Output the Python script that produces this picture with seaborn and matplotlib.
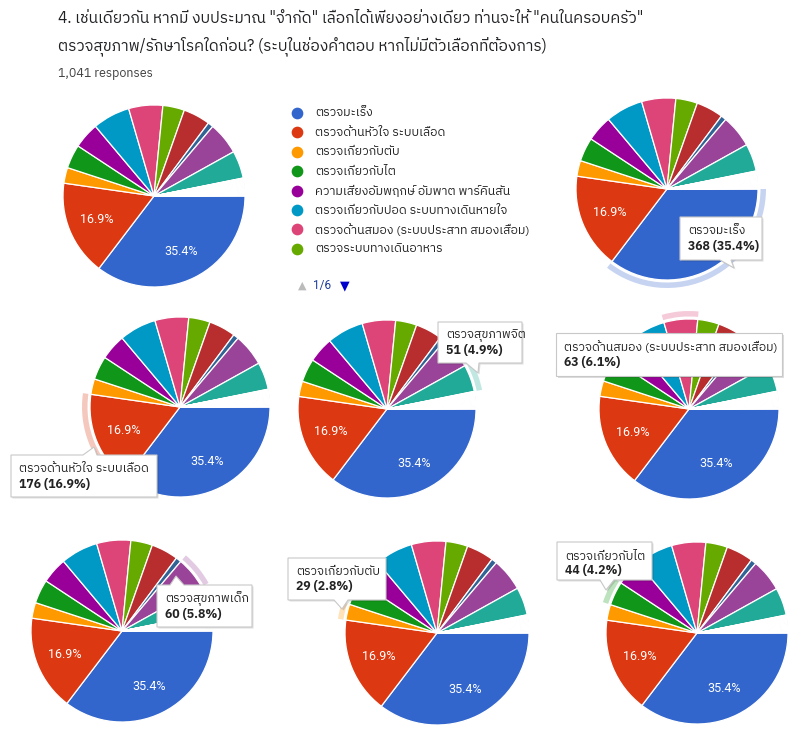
import matplotlib
matplotlib.use("Agg")
import matplotlib.pyplot as plt
import seaborn as sns
from matplotlib import font_manager as fm
from matplotlib.ft2font import FT2Font
from matplotlib.patches import Wedge, Polygon
from matplotlib.colors import to_rgb


# Data (1,041 responses)
categories = [
    "ตรวจมะเร็ง",
    "ตรวจด้านหัวใจ ระบบเลือด",
    "ตรวจเกี่ยวกับตับ",
    "ตรวจเกี่ยวกับไต",
    "ความเสี่ยงอัมพฤกษ์ อัมพาต พาร์คินสัน",
    "ตรวจเกี่ยวกับปอด ระบบทางเดินหายใจ",
    "ตรวจด้านสมอง (ระบบประสาท สมองเสื่อม)",
    "ตรวจระบบทางเดินอาหาร",
    "ตัวเลือกที่ 9",
    "ตัวเลือกที่ 10",
    "ตรวจสุขภาพเด็ก",
    "ตรวจสุขภาพจิต",
]
counts = [368, 176, 29, 44, 48, 69, 63, 40, 50, 10, 60, 51]
# many single answers typed in "other"
other_counts = [1, 1, 1, 1, 1, 1, 1, 1, 1, 1, 1, 1, 1, 1, 1, 1, 1,
                1, 1, 1, 1, 1, 1, 1, 1, 1, 1, 1, 1, 1, 1, 1, 1]

google_colors = ["#3366cc", "#dc3912", "#ff9900", "#109618", "#990099", "#0099c6",
                 "#dd4477", "#66aa00", "#b82e2e", "#316395", "#994499", "#22aa99",
                 "#aaaa11", "#6633cc", "#e67300", "#8b0707", "#651067", "#329262",
                 "#5574a6", "#3b3eac"]

title_lines = [
    '4. เช่นเดียวกัน หากมี งบประมาณ "จำกัด" เลือกได้เพียงอย่างเดียว ท่านจะให้ "คนในครอบครัว"',
    "ตรวจสุขภาพ/รักษาโรคใดก่อน? (ระบุในช่องคำตอบ หากไม่มีตัวเลือกที่ต้องการ)",
]
responses_text = "1,041 responses"
page_text = "1/6"

# hovered slice in each panel (None = no tooltip)
hovered = [None, 0, 1, 11, 6, 10, 2, 3]


# Font with Thai glyphs
sns.set_theme(style="white")
thai_fonts = []
for f in fm.fontManager.ttflist:
    try:
        if 0x0E15 in FT2Font(f.fname).get_charmap():
            thai_fonts.append(f.name)
    except Exception:
        pass
thai_fonts = sorted(set(thai_fonts), key=lambda n: ("Thai" not in n, n))
plt.rcParams["font.family"] = thai_fonts[:1] + ["Roboto", "DejaVu Sans"]

W, H = 800, 742
values = counts + other_counts
total = sum(values)
colors = [google_colors[i % len(google_colors)] for i in range(len(values))]


def Y(y):
    return H - y


def light(c, k=0.72):
    r, g, b = to_rgb(c)
    return (r + (1 - r) * k, g + (1 - g) * k, b + (1 - b) * k)


def tooltip(ax, box, lines, side=None, base=None, tip=None):
    x0, y0, x1, y1 = box
    if side == "top":
        pts = [(x0, y0), (base[0], y0), tip, (base[1], y0), (x1, y0), (x1, y1), (x0, y1)]
    elif side == "bottom":
        pts = [(x0, y0), (x1, y0), (x1, y1), (base[1], y1), tip, (base[0], y1), (x0, y1)]
    else:
        pts = [(x0, y0), (x1, y0), (x1, y1), (x0, y1)]
    shadow = Polygon([(x + 1.5, Y(y + 1.5)) for x, y in pts], closed=True,
                     facecolor="#00000022", edgecolor="none", zorder=5)
    ax.add_patch(shadow)
    ax.add_patch(Polygon([(x, Y(y)) for x, y in pts], closed=True, facecolor="white",
                         edgecolor="#c8c8c8", linewidth=0.8, zorder=6))
    ax.text(x0 + 8, Y(y0 + 14), lines[0], fontsize=8.8, color="#222222",
            va="center", ha="left", zorder=7)
    ax.text(x0 + 8, Y(y0 + 29), lines[1], fontsize=8.8, color="#222222",
            fontweight="bold", va="center", ha="left", zorder=7)


# Layout of the 8 pies (pixel centre, radius) and their tooltips
panels = [
    dict(c=(154, 196), r=91),
    dict(c=(667, 189), r=91, box=(680, 217, 762, 260), side="bottom",
         base=(720, 731), tip=(734, 268), covers_label=True),
    dict(c=(180, 407), r=90, box=(11, 455, 157, 497), side="top",
         base=(83, 97), tip=(94, 447)),
    dict(c=(387, 409), r=89, box=(438, 322, 522, 363), side="bottom",
         base=(466, 479), tip=(478, 373)),
    dict(c=(689, 409), r=90, box=(556, 333, 782, 376)),
    dict(c=(122, 631), r=91, box=(157, 585, 252, 627), side="top",
         base=(170, 184), tip=(176, 576)),
    dict(c=(437, 633), r=92, box=(288, 558, 386, 600), side="bottom",
         base=(334, 348), tip=(342, 609)),
    dict(c=(697, 633), r=91, box=(557, 542, 652, 580), side="bottom",
         base=(600, 614), tip=(606, 590)),
]

fig = plt.figure(figsize=(W / 100, H / 100), dpi=100)
ax = fig.add_axes([0, 0, 1, 1])

for p, hi in zip(panels, hovered):
    cx, cy = p["c"]
    r = p["r"]
    wedges, texts, autotexts = ax.pie(
        values, colors=colors, radius=r, center=(cx, Y(cy)), startangle=0,
        counterclock=False, frame=True,
        wedgeprops=dict(edgecolor="white", linewidth=0.9),
        autopct=lambda v: f"{v:.1f}%" if v > 10 else "", pctdistance=0.68,
        textprops=dict(color="white", fontsize=9, family=["Roboto", "DejaVu Sans"]))
    if hi is not None:
        if p.get("covers_label"):
            # the tooltip sits on top of this slice's label
            autotexts[hi].set_visible(False)
        start = -360 * sum(values[:hi]) / total
        end = -360 * sum(values[:hi + 1]) / total
        ax.add_patch(Wedge((cx, Y(cy)), r + 8, end, start, width=5.5,
                           facecolor=light(colors[hi]), edgecolor="none", zorder=4))
        pct = 100 * values[hi] / total
        tooltip(ax, p["box"], [categories[hi], f"{values[hi]} ({pct:.1f}%)"],
                p.get("side"), p.get("base"), p.get("tip"))

# Title + response count
ax.text(58, Y(18), title_lines[0], fontsize=11.2, color="#202124", va="center")
ax.text(58, Y(46), title_lines[1], fontsize=11.2, color="#202124", va="center")
ax.text(58, Y(74), responses_text, fontsize=9, color="#444444", va="center")

# Legend (page 1 of 6)
for i, lab in enumerate(categories[:8]):
    ly = 113 + i * 19.4
    ax.scatter([297], [Y(ly)], s=55, color=colors[i], zorder=3)
    ax.text(315, Y(ly), lab, fontsize=8.9, color="#222222", va="center")
ax.text(302, Y(286), "▲", fontsize=8, color="#bbbbbb", ha="center", va="center",
        family="DejaVu Sans")
ax.text(313, Y(286), page_text, fontsize=8.5, color="#1a3a9c", va="center",
        family=["Roboto", "DejaVu Sans"])
ax.text(345, Y(286), "▼", fontsize=9, color="#0000cc", ha="center", va="center",
        family="DejaVu Sans")

ax.set_xlim(0, W)
ax.set_ylim(0, H)
ax.set_aspect("equal")
ax.set_axis_off()
fig.savefig("out.png", dpi=100, facecolor="white")
